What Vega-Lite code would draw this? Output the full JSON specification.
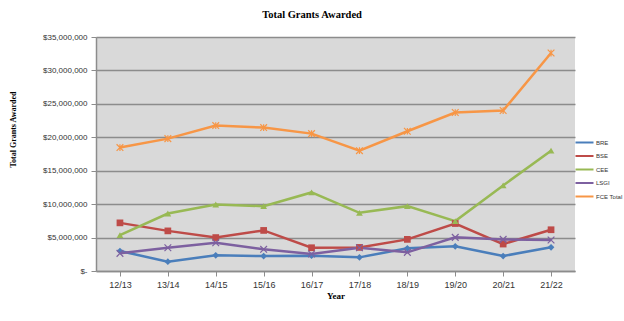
{
  "$schema": "https://vega.github.io/schema/vega-lite/v6.json",
  "autosize": {"type": "none"},
  "width": 479,
  "height": 234,
  "padding": {"left": 96, "top": 37, "right": 49, "bottom": 50},
  "background": "white",
  "title": {
    "text": "Total Grants Awarded",
    "font": "Liberation Serif",
    "fontSize": 10.5,
    "fontWeight": "bold",
    "color": "#000000",
    "anchor": "middle",
    "frame": "group",
    "baseline": "alphabetic",
    "offset": 16,
    "dx": -23.5,
    "dy": 11
  },
  "config": {
    "view": {"fill": "#D9D9D9", "stroke": null},
    "axis": {"labelFont": "Liberation Sans", "labelColor": "#333333", "domainColor": "#8C8C8C", "tickColor": "#8C8C8C"}
  },
  "resolve": {"scale": {"shape": "independent"}, "legend": {"shape": "independent"}},
  "data": {
    "values": [
      {"year": "12/13", "series": "BRE", "value": 2990000},
      {"year": "13/14", "series": "BRE", "value": 1390000},
      {"year": "14/15", "series": "BRE", "value": 2340000},
      {"year": "15/16", "series": "BRE", "value": 2240000},
      {"year": "16/17", "series": "BRE", "value": 2280000},
      {"year": "17/18", "series": "BRE", "value": 2040000},
      {"year": "18/19", "series": "BRE", "value": 3390000},
      {"year": "19/20", "series": "BRE", "value": 3690000},
      {"year": "20/21", "series": "BRE", "value": 2240000},
      {"year": "21/22", "series": "BRE", "value": 3540000},
      {"year": "12/13", "series": "BSE", "value": 7200000},
      {"year": "13/14", "series": "BSE", "value": 6000000},
      {"year": "14/15", "series": "BSE", "value": 5000000},
      {"year": "15/16", "series": "BSE", "value": 6070000},
      {"year": "16/17", "series": "BSE", "value": 3480000},
      {"year": "17/18", "series": "BSE", "value": 3530000},
      {"year": "18/19", "series": "BSE", "value": 4730000},
      {"year": "19/20", "series": "BSE", "value": 7100000},
      {"year": "20/21", "series": "BSE", "value": 4030000},
      {"year": "21/22", "series": "BSE", "value": 6170000},
      {"year": "12/13", "series": "CEE", "value": 5370000},
      {"year": "13/14", "series": "CEE", "value": 8600000},
      {"year": "14/15", "series": "CEE", "value": 9950000},
      {"year": "15/16", "series": "CEE", "value": 9700000},
      {"year": "16/17", "series": "CEE", "value": 11750000},
      {"year": "17/18", "series": "CEE", "value": 8700000},
      {"year": "18/19", "series": "CEE", "value": 9700000},
      {"year": "19/20", "series": "CEE", "value": 7460000},
      {"year": "20/21", "series": "CEE", "value": 12800000},
      {"year": "21/22", "series": "CEE", "value": 18000000},
      {"year": "12/13", "series": "LSGI", "value": 2640000},
      {"year": "13/14", "series": "LSGI", "value": 3480000},
      {"year": "14/15", "series": "LSGI", "value": 4220000},
      {"year": "15/16", "series": "LSGI", "value": 3240000},
      {"year": "16/17", "series": "LSGI", "value": 2540000},
      {"year": "17/18", "series": "LSGI", "value": 3480000},
      {"year": "18/19", "series": "LSGI", "value": 2790000},
      {"year": "19/20", "series": "LSGI", "value": 5030000},
      {"year": "20/21", "series": "LSGI", "value": 4730000},
      {"year": "21/22", "series": "LSGI", "value": 4630000},
      {"year": "12/13", "series": "FCE Total", "value": 18460000},
      {"year": "13/14", "series": "FCE Total", "value": 19800000},
      {"year": "14/15", "series": "FCE Total", "value": 21750000},
      {"year": "15/16", "series": "FCE Total", "value": 21450000},
      {"year": "16/17", "series": "FCE Total", "value": 20550000},
      {"year": "17/18", "series": "FCE Total", "value": 18000000},
      {"year": "18/19", "series": "FCE Total", "value": 20900000},
      {"year": "19/20", "series": "FCE Total", "value": 23700000},
      {"year": "20/21", "series": "FCE Total", "value": 24000000},
      {"year": "21/22", "series": "FCE Total", "value": 32600000}
    ]
  },
  "encoding": {
    "x": {
      "field": "year", "type": "ordinal",
      "scale": {"paddingInner": 0, "paddingOuter": 0},
      "axis": {
        "title": "Year",
        "titleFont": "Liberation Serif", "titleFontSize": 9, "titleFontWeight": "bold", "titleColor": "#000000",
        "titlePadding": 2,
        "labelAngle": 0, "labelFontSize": 9, "labelPadding": 4,
        "bandPosition": 0, "labelDx": 12,
        "tickSize": 5, "domainWidth": 1.5, "grid": false
      }
    },
    "y": {
      "field": "value", "type": "quantitative",
      "scale": {"domain": [0, 35000000], "nice": false},
      "axis": {
        "title": "Total Grants Awarded",
        "titleFont": "Liberation Serif", "titleFontSize": 8, "titleFontWeight": "bold", "titleColor": "#000000",
        "titleX": -83, "titleY": 92, "titleAngle": -90, "titleBaseline": "middle", "titleAlign": "center",
        "values": [0, 5000000, 10000000, 15000000, 20000000, 25000000, 30000000, 35000000],
        "labelExpr": "datum.value == 0 ? '$-' : format(datum.value, '$,.0f')",
        "labelFontSize": 8, "labelPadding": 4, "tickSize": 5,
        "grid": true, "gridColor": "#8C8C8C", "gridWidth": 1.5,
        "domainWidth": 1.5
      }
    }
  },
  "layer": [
    {
      "mark": {"type": "line", "strokeWidth": 2.5},
      "encoding": {
        "color": {
          "field": "series", "type": "nominal",
          "scale": {
            "domain": ["BRE", "BSE", "CEE", "LSGI", "FCE Total"],
            "range": ["#4A7EBB", "#BE4B48", "#98B954", "#7D60A0", "#F79646"]
          },
          "legend": {
            "title": null,
            "orient": "none",
            "legendX": 483,
            "legendY": 100,
            "symbolType": "M-2,0L2,0",
            "symbolSize": 81,
            "symbolStrokeWidth": 2,
            "labelFont": "Liberation Sans",
            "labelFontSize": 6,
            "labelColor": "#333333",
            "labelOffset": 6,
            "rowPadding": 3.5
          }
        }
      }
    },
    {
      "transform": [{"filter": "indexof(['BRE','BSE','CEE'], datum.series) >= 0"}],
      "mark": {"type": "point", "filled": true, "opacity": 1, "size": 45},
      "encoding": {
        "color": {"field": "series", "type": "nominal", "legend": null},
        "shape": {
          "field": "series", "type": "nominal",
          "scale": {"domain": ["BRE", "BSE", "CEE"], "range": ["diamond", "square", "triangle-up"]},
          "legend": null
        }
      }
    },
    {
      "transform": [{"filter": "indexof(['LSGI','FCE Total'], datum.series) >= 0"}],
      "mark": {"type": "point", "filled": false, "opacity": 1, "size": 45, "strokeWidth": 1.2},
      "encoding": {
        "color": {"field": "series", "type": "nominal", "legend": null},
        "shape": {
          "field": "series", "type": "nominal",
          "scale": {"domain": ["LSGI", "FCE Total"], "range": ["M-1,-1L1,1M-1,1L1,-1", "M-1,-1L1,1M-1,1L1,-1M0,-1L0,1"]},
          "legend": null
        }
      }
    }
  ]
}
